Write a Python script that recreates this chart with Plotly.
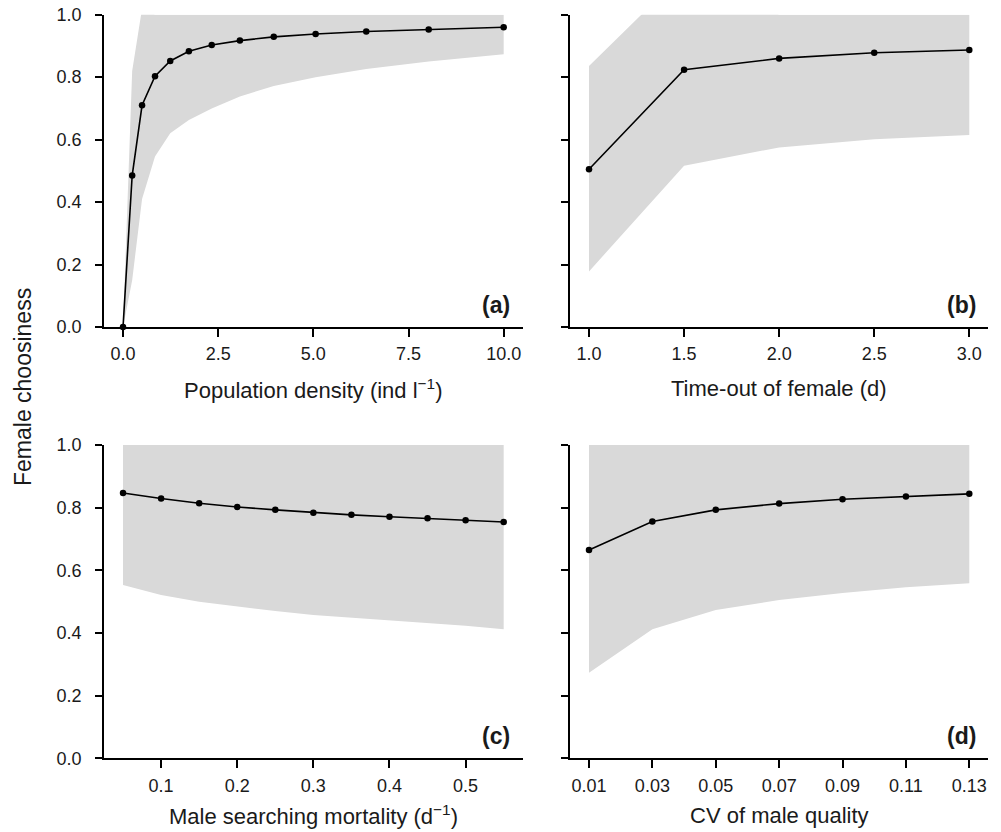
import plotly.graph_objects as go

# ---- data ----
# (a) population density
dens_x = [0, 0.24, 0.5, 0.84, 1.24, 1.73, 2.33, 3.07, 3.96, 5.06, 6.39, 8.03, 10.0]
dens_y = [0.0, 0.485, 0.71, 0.803, 0.852, 0.883, 0.903, 0.917, 0.929, 0.938, 0.946, 0.953, 0.96]
dens_lo = [0.0, 0.15, 0.41, 0.546, 0.62, 0.663, 0.70, 0.738, 0.772, 0.80, 0.826, 0.85, 0.873]
dens_hi = [0.0, 0.82, 1.02, 1.0, 1.0, 1.0, 1.0, 1.0, 1.0, 1.0, 1.0, 1.0, 1.0]

# (b) time-out of female
tout_x = [1.0, 1.5, 2.0, 2.5, 3.0]
tout_y = [0.505, 0.824, 0.860, 0.878, 0.887]
tout_lo = [0.178, 0.516, 0.575, 0.601, 0.615]
tout_hi = [0.836, 1.134, 1.0, 1.0, 1.0]

# (c) male searching mortality
mort_x = [0.05, 0.10, 0.15, 0.20, 0.25, 0.30, 0.35, 0.40, 0.45, 0.50, 0.55]
mort_y = [0.847, 0.829, 0.814, 0.802, 0.793, 0.784, 0.777, 0.771, 0.766, 0.760, 0.754]
mort_lo = [0.553, 0.521, 0.500, 0.484, 0.470, 0.457, 0.449, 0.439, 0.431, 0.423, 0.412]
mort_hi = [1.0] * 11

# (d) CV of male quality
cv_x = [0.01, 0.03, 0.05, 0.07, 0.09, 0.11, 0.13]
cv_y = [0.665, 0.756, 0.793, 0.813, 0.827, 0.836, 0.844]
cv_lo = [0.273, 0.412, 0.473, 0.505, 0.528, 0.546, 0.559]
cv_hi = [1.0] * 7

y_ticks = [0.0, 0.2, 0.4, 0.6, 0.8, 1.0]
a_ticks = [0.0, 2.5, 5.0, 7.5, 10.0]
b_ticks = [1.0, 1.5, 2.0, 2.5, 3.0]
c_ticks = [0.1, 0.2, 0.3, 0.4, 0.5]
d_ticks = [0.01, 0.03, 0.05, 0.07, 0.09, 0.11, 0.13]

x_titles = ["Population density (ind l<sup>\u22121</sup>)", "Time-out of female (d)",
            "Male searching mortality (d<sup>\u22121</sup>)", "CV of male quality"]
panel_labels = ["(a)", "(b)", "(c)", "(d)"]
y_title = "Female choosiness"

# page is 1001x832; the HTML body has an 8px margin, so the figure is 8px smaller
OFF = 8
W, H = 1001 - OFF, 832 - OFF
FONT = "Liberation Sans, Arial, Helvetica, sans-serif"
BAND = "#d9d9d9"


def px(p):
    return (p - OFF) / W


def py(p):
    return 1 - (p - OFF) / H


panels = [
    (dens_x, dens_y, dens_lo, dens_hi, a_ticks, [-0.5, 10.5], ".1f"),
    (tout_x, tout_y, tout_lo, tout_hi, b_ticks, [0.9, 3.1], ".1f"),
    (mort_x, mort_y, mort_lo, mort_hi, c_ticks, [0.025, 0.575], ".1f"),
    (cv_x, cv_y, cv_lo, cv_hi, d_ticks, [0.004, 0.136], ".2f"),
]

xdom = [[px(104), px(522.7)], [px(570), px(988.3)]]
ydom = [[py(327), py(14.7)], [py(758.3), py(445)]]
title_gap = [62, 57]

fig = go.Figure()
layout = dict(
    template="none",
    width=W, height=H, margin=dict(l=0, r=0, t=0, b=0, autoexpand=False),
    paper_bgcolor="white", plot_bgcolor="white", showlegend=False,
    font=dict(family=FONT, color="#1a1a1a", size=18),
)
annotations = []

for i, (xs, ys, lo, hi, xt, xr, fmt) in enumerate(panels):
    n = i + 1
    xa = "x" if n == 1 else f"x{n}"
    ya = "y" if n == 1 else f"y{n}"
    row, col = i // 2, i % 2
    fig.add_trace(go.Scatter(x=xs, y=lo, mode="lines", line=dict(width=0, color=BAND),
                             xaxis=xa, yaxis=ya, hoverinfo="skip"))
    fig.add_trace(go.Scatter(x=xs, y=hi, mode="lines", line=dict(width=0, color=BAND),
                             fill="tonexty", fillcolor=BAND, xaxis=xa, yaxis=ya, hoverinfo="skip"))
    fig.add_trace(go.Scatter(x=xs, y=ys, mode="lines+markers",
                             line=dict(color="black", width=1.6),
                             marker=dict(color="black", size=6.5),
                             cliponaxis=False, xaxis=xa, yaxis=ya))
    layout["xaxis" if n == 1 else f"xaxis{n}"] = dict(
        domain=xdom[col], anchor=ya, range=xr, tickvals=xt, tickformat=fmt,
        showline=True, linecolor="black", linewidth=1.5, mirror=False, automargin=False,
        ticks="outside", ticklen=8, tickwidth=1.5, tickcolor="black",
        showgrid=False, zeroline=False, tickfont=dict(size=18, family=FONT),
        ticklabelstandoff=2, ticklabeloverflow="allow",
    )
    layout["yaxis" if n == 1 else f"yaxis{n}"] = dict(
        domain=ydom[row], anchor=xa, range=[0, 1], tickvals=y_ticks, tickformat=".1f",
        showline=True, linecolor="black", linewidth=1.5, automargin=False,
        ticks="outside", ticklen=7, tickwidth=1.5, tickcolor="black",
        showgrid=False, zeroline=False, showticklabels=(col == 0),
        tickfont=dict(size=18, family=FONT), ticklabelstandoff=10,
        ticklabeloverflow="allow",
    )
    xc = (xdom[col][0] + xdom[col][1]) / 2
    ybot = ydom[row][0]
    annotations.append(dict(text=x_titles[i], xref="paper", yref="paper",
                            x=xc, y=ybot - title_gap[row] / H, xanchor="center", yanchor="middle",
                            showarrow=False, font=dict(size=22, family=FONT)))
    annotations.append(dict(text="<b>" + panel_labels[i] + "</b>", xref="paper", yref="paper",
                            x=xdom[col][0] + (408 / W), y=ybot + 22 / H,
                            xanchor="right", yanchor="middle",
                            showarrow=False, font=dict(size=23, family=FONT)))

annotations.append(dict(text=y_title, xref="paper", yref="paper", x=px(23), y=py(387),
                        xanchor="center", yanchor="middle", textangle=-90, showarrow=False,
                        font=dict(size=23, family=FONT)))
layout["annotations"] = annotations
fig.update_layout(**layout)
fig.write_html("out.html")
